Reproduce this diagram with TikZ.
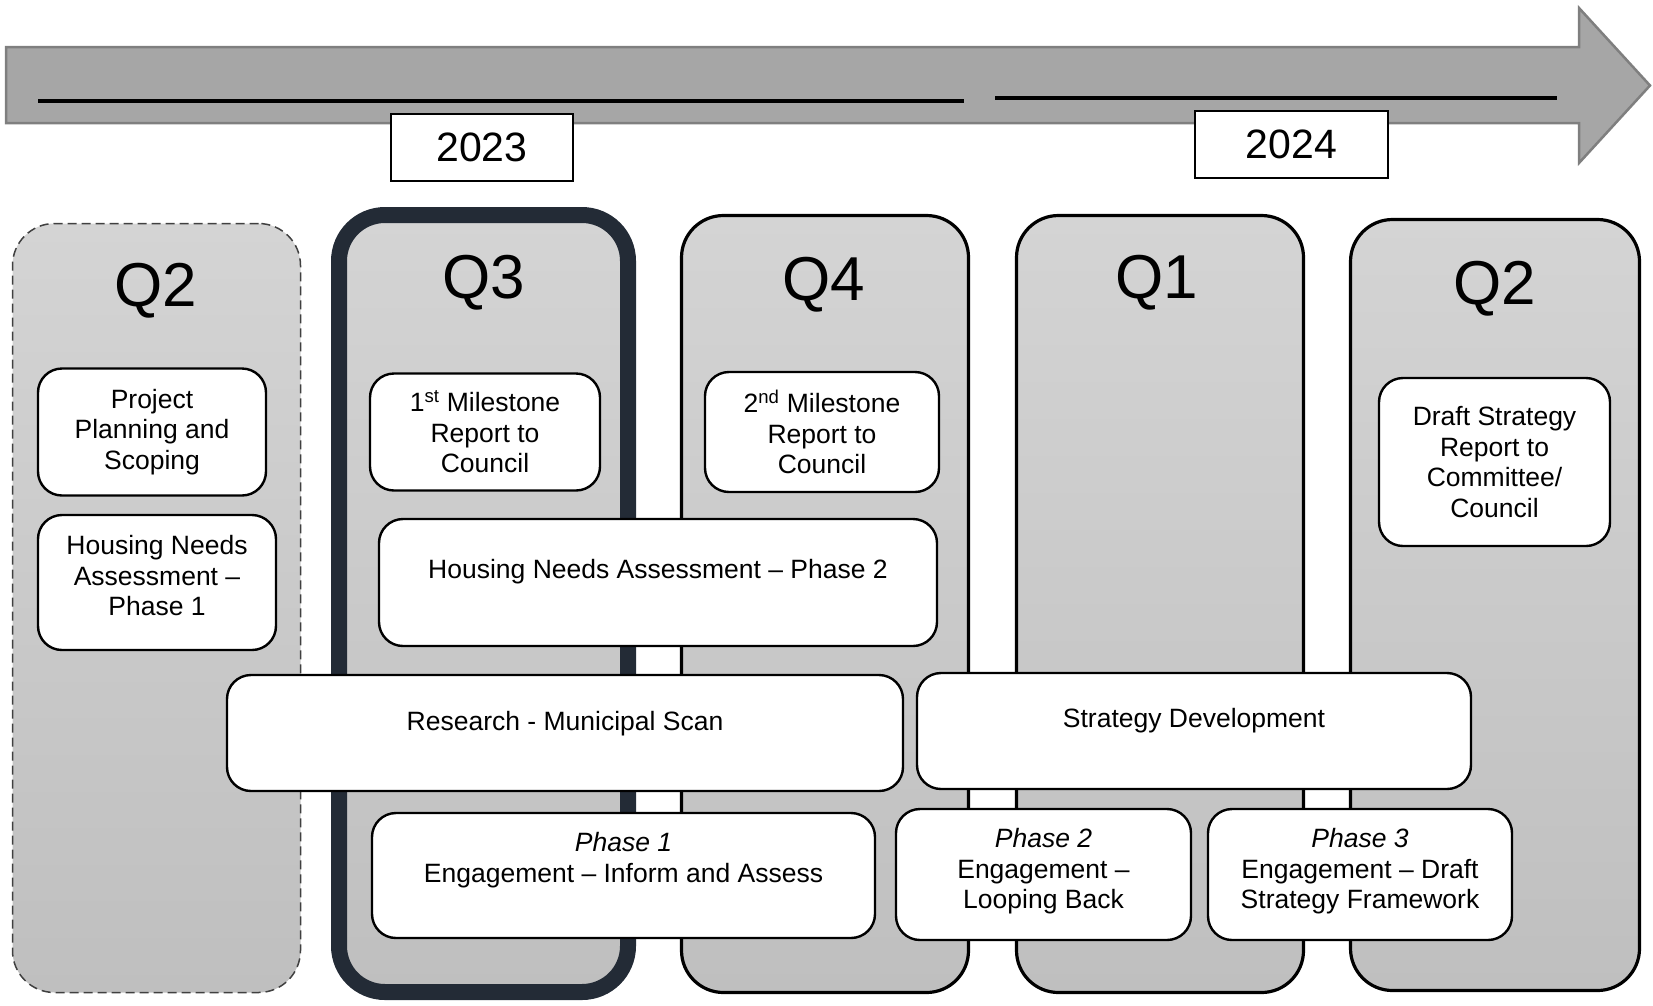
\documentclass[tikz,border=0pt]{standalone}
\usepackage{fontspec}
\setmainfont{Liberation Sans}
\usepackage{tikz}
\usetikzlibrary{calc}
\definecolor{coltop}{HTML}{D4D4D4}
\definecolor{colbot}{HTML}{BFBFBF}
\definecolor{navy}{HTML}{232B36}
\definecolor{barfill}{HTML}{A6A6A6}
\definecolor{barline}{HTML}{7F7F7F}
\tikzset{
  quarter/.style={rounded corners=42pt, top color=coltop, bottom color=colbot, draw=black, line width=3.2pt, inner sep=0pt},
  task/.style={draw, fill=white, rounded corners=24pt, line width=2.4pt, align=center, inner sep=0pt,
    font=\fontsize{26.5}{30.5}\selectfont},
  textup/.style={text depth=#1},
  yearbox/.style={draw, fill=white, line width=2pt, inner sep=0pt, font=\fontsize{41}{45}\selectfont},
  qlabel/.style={font=\fontsize{62}{70}\selectfont},
}
\begin{document}
\begin{tikzpicture}[x=1pt, y=-1pt]
                \useasboundingbox (0,0) rectangle (1653,1005);
                % timeline
                \draw[fill=barfill, draw=barline, line width=2.5pt] (6,47) -- (1579,47) -- (1579,8) -- (1650,85.5)
                    -- (1579,163) -- (1579,123) -- (6,123) -- cycle;
                \draw[line width=4pt] (38,100.5) -- (964,100.5);
                \draw[line width=4pt] (995,97.5) -- (1557,97.5);
                \node[yearbox, minimum width=182, minimum height=67] (y2023) at (482,147.5) {2023};
                \node[yearbox, minimum width=193, minimum height=67] (y2024) at (1291.5,144.5) {2024};
                % quarters
                \node[quarter, draw=black!75, line width=1.5pt, dash pattern=on 9pt off 5pt,
                    minimum width=288, minimum height=769] (colA) at (156.5,608) {};
                \node[quarter, draw=navy, line width=16pt, rounded corners=46pt,
                    minimum width=289, minimum height=777] (colB) at (483.5,603.5) {};
                \node[quarter, minimum width=287, minimum height=777] (colC) at (825,604) {};
                \node[quarter, minimum width=287, minimum height=777] (colD) at (1160,604) {};
                \node[quarter, minimum width=289, minimum height=771] (colE) at (1495,605) {};
                \node[qlabel] (qA) at (156,291) {Q2};
                \node[qlabel] (qB) at (484,283) {Q3};
                \node[qlabel] (qC) at (824,285) {Q4};
                \node[qlabel] (qD) at (1157,283) {Q1};
                \node[qlabel] (qE) at (1495,289) {Q2};
                % tasks
                \node[task, minimum width=228, minimum height=127] (plan) at (152,432) {Project\\Planning and\\Scoping};
                \node[task, minimum width=238, minimum height=135, textup=14] (hnaA) at (157,582.5) {Housing Needs\\Assessment --\\Phase 1};
                \node[task, minimum width=230, minimum height=117] (msA) at (485,432) {1\textsuperscript{st} Milestone\\Report to\\Council};
                \node[task, minimum width=234, minimum height=120] (msB) at (822,432) {2\textsuperscript{nd} Milestone\\Report to\\Council};
                \node[task, minimum width=558, minimum height=127, textup=28] (hnaB) at (658,582.5) {Housing Needs Assessment -- Phase 2};
                \node[task, minimum width=231, minimum height=168] (draft) at (1494.5,462) {Draft Strategy\\Report to\\Committee/\\Council};
                \node[task, minimum width=676, minimum height=116, textup=24] (scan) at (565,733) {Research - Municipal Scan};
                \node[task, minimum width=554, minimum height=116, textup=26] (strat) at (1194,731) {Strategy Development};
                \node[task, minimum width=503, minimum height=125, textup=36] (engA) at (623.5,875.5) {\textit{Phase 1}\\Engagement -- Inform and Assess};
                \node[task, minimum width=295, minimum height=131, textup=12] (engB) at (1043.5,874.5) {\textit{Phase 2}\\Engagement --\\Looping Back};
                \node[task, minimum width=304, minimum height=131, textup=12] (engC) at (1360,874.5) {\textit{Phase 3}\\Engagement -- Draft\\Strategy Framework};
            \end{tikzpicture}
\end{document}
